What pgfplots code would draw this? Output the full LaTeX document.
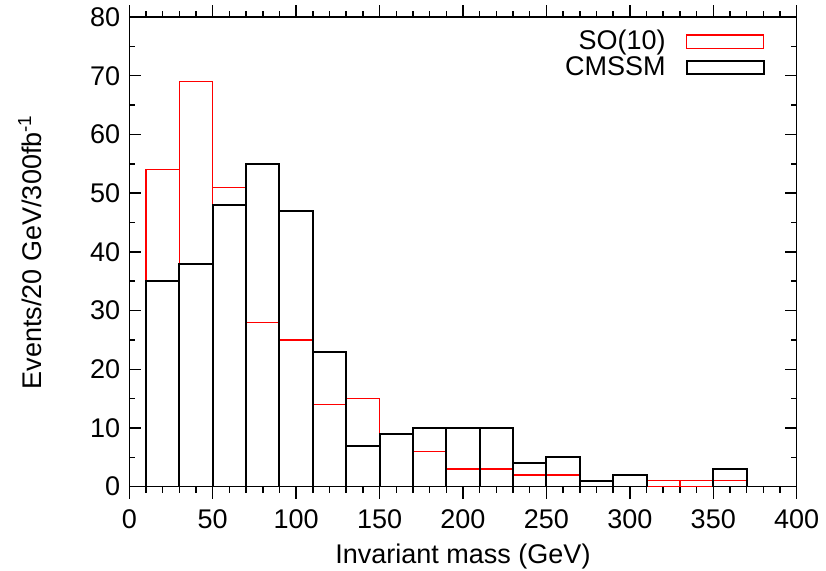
\documentclass[border=0pt]{standalone}
\usepackage{fontspec}
\setmainfont{Liberation Sans}
\usepackage{pgfplots}
\pgfplotsset{compat=1.18}

% bin centres (GeV) and event counts per 20 GeV bin
\begin{document}
\begin{tikzpicture}
\useasboundingbox (-64.65pt,-42.15pt) rectangle (348.35pt,243.35pt);
\begin{axis}[
  at={(0,0)}, anchor=south west,
  scale only axis,
  width=333.7pt, height=234.85pt,
  xmin=0, xmax=400, ymin=0, ymax=80,
  xtick distance=50, ytick distance=10,
  minor x tick num=4, minor y tick num=1,
  major tick length=6pt, minor tick length=3pt,
  tick style={black, line width=0.75pt},
  axis line style={line width=0.75pt},
  tick align=inside,
  font=\fontsize{13.5}{16}\selectfont,
  /pgf/number format/assume math mode=true,
  yticklabel style={xshift=-1pt},
  xticklabel style={yshift=-2pt},
  xlabel={Invariant mass (GeV)},
  ylabel={Events/20 GeV/300fb\textsuperscript{-1}},
  xlabel style={at={(axis description cs:0.5,-0.1646)}, anchor=base, inner sep=0pt},
  ylabel style={at={(axis description cs:-0.167,0.5)}, anchor=north, inner sep=0pt},
  ybar, bar width=20, bar shift=0pt,
  legend plot pos=right,
  legend cell align=right,
  legend style={at={(axis description cs:0.9525,0.979)}, anchor=north east,
    draw=none, fill=none, inner sep=0pt, row sep=-1pt,
    nodes={inner sep=1.5pt}},
  legend image code/.code={%
    \path (0pt,0pt);
    \draw[#1] (8.5pt,-3.3pt) rectangle (47pt,3.3pt);},
]
\addplot[draw=red, fill=none, line width=0.65pt] coordinates {
  (20,54) (40,69) (60,51) (80,28) (100,25) (120,14) (140,15) (160,9)
  (180,6) (200,3) (220,3) (240,2) (260,2) (280,1) (320,1) (340,1) (360,1)
};
\addlegendentry{SO(10)}
\addplot[draw=black, fill=none, line width=1pt] coordinates {
  (20,35) (40,38) (60,48) (80,55) (100,47) (120,23) (140,7) (160,9)
  (180,10) (200,10) (220,10) (240,4) (260,5) (280,1) (300,2) (360,3)
};
\addlegendentry{CMSSM}
\end{axis}
\end{tikzpicture}
\end{document}
